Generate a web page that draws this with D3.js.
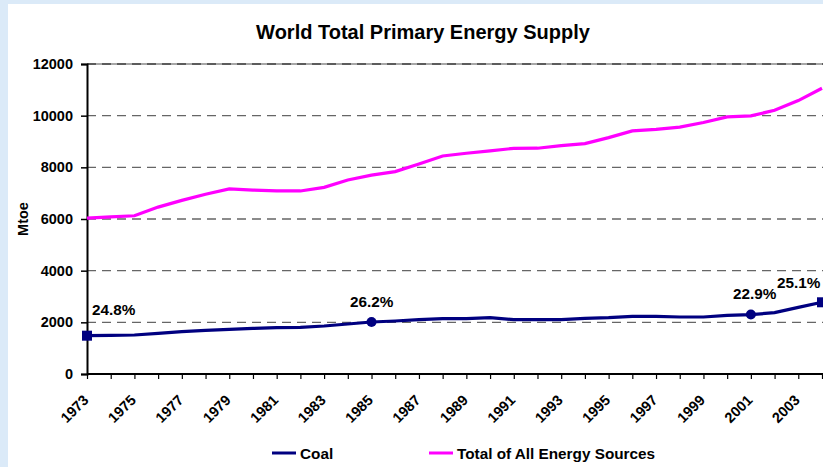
<!DOCTYPE html>
<html><head><meta charset="utf-8">
<script src="https://cdn.jsdelivr.net/npm/d3@7"></script>
<style>
html,body{margin:0;padding:0;background:#dbeaf8;}
svg{display:block;font-family:Arial,"Liberation Sans",sans-serif;}
</style></head>
<body><svg id="c" width="823" height="467"></svg>
<script>
const years = d3.range(1973, 2005);
const total = [6035,6080,6125,6460,6720,6960,7165,7120,7085,7085,7225,7510,7700,7835,8130,8440,8545,8635,8735,8740,8840,8920,9150,9410,9470,9555,9735,9955,9990,10210,10585,11060];
const coal  = [1483,1495,1510,1575,1638,1690,1729,1765,1794,1806,1858,1935,2013,2052,2103,2142,2142,2181,2103,2103,2103,2155,2181,2232,2232,2206,2206,2271,2300,2374,2581,2776];
const yTicks = [0,2000,4000,6000,8000,10000,12000];
const xLabels = d3.range(1973, 2005, 2);
const shares = [{year:1973,label:"24.8%",marker:"square"},{year:1985,label:"26.2%",marker:"circle"},{year:2001,label:"22.9%",marker:"circle"},{year:2004,label:"25.1%",marker:"square"}];
const seriesNames = ["Coal","Total of All Energy Sources"];
const colors = ["#000080","#ff00ff"];

const svg = d3.select("#c");
svg.append("rect").attr("x",8).attr("y",4).attr("width",815).attr("height",463).attr("fill","#fff");

const L=87, R=822, T=64, B=374;
const x = d3.scaleLinear().domain([1973,2004]).range([L,R]);
const y = d3.scaleLinear().domain([0,12000]).range([B,T]);

// title
svg.append("text").attr("x",423).attr("y",39).attr("text-anchor","middle")
  .attr("font-size",20).attr("font-weight","bold").attr("fill","#000")
  .text("World Total Primary Energy Supply");

// grid
const g = svg.append("g");
g.selectAll("line.grid").data(yTicks.filter(d=>d>0)).join("line")
  .attr("x1",L).attr("x2",823).attr("y1",d=>y(d)).attr("y2",d=>y(d))
  .attr("stroke",d=>d===12000?"#8a8a8a":"#666").attr("stroke-width",1.4)
  .attr("stroke-dasharray",d=>d===12000?null:"9,6");
g.selectAll("line.grid2").data([12000]).join("line")
  .attr("x1",L).attr("x2",823).attr("y1",d=>y(d)).attr("y2",d=>y(d))
  .attr("stroke","#444").attr("stroke-width",1.4).attr("stroke-dasharray","9,6");

// y axis
const yAxis = d3.axisLeft(y).tickValues(yTicks).tickSize(6).tickPadding(8).tickFormat(d3.format("d"));
const ya = svg.append("g").attr("transform",`translate(${L},0)`).call(yAxis);
ya.select(".domain").attr("stroke","#000").attr("stroke-width",2);
ya.selectAll(".tick line").attr("stroke","#000").attr("stroke-width",1.5);
ya.selectAll(".tick text").attr("font-size",14.5).attr("font-weight","bold").attr("fill","#000").attr("font-family","Arial,'Liberation Sans',sans-serif");

// x axis
const xAxis = d3.axisBottom(x).tickValues(years).tickSize(5).tickFormat(d=> xLabels.includes(d) ? String(d) : "");
const xa = svg.append("g").attr("transform",`translate(0,${B})`).call(xAxis);
xa.select(".domain").attr("stroke","#000").attr("stroke-width",2).attr("d",`M${L},0H823`);
xa.selectAll(".tick line").attr("stroke","#000").attr("stroke-width",1.2);
xa.selectAll(".tick text").attr("font-size",14.5).attr("font-weight","bold").attr("fill","#000")
  .attr("font-family","Arial,'Liberation Sans',sans-serif")
  .attr("text-anchor","end").attr("dy",0).attr("y",0)
  .attr("transform","translate(2,27) rotate(-45)");

// axis label
svg.append("text").attr("transform","translate(28,219) rotate(-90)").attr("text-anchor","middle")
  .attr("font-size",14.5).attr("font-weight","bold").text("Mtoe");

// lines
const line = d3.line().x((d,i)=>x(years[i])).y(d=>y(d));
svg.append("path").datum(total).attr("d",line).attr("fill","none").attr("stroke",colors[1]).attr("stroke-width",3.2);
svg.append("path").datum(coal).attr("d",line).attr("fill","none").attr("stroke",colors[0]).attr("stroke-width",3.2);

// markers & labels
shares.forEach(s=>{
  const i = years.indexOf(s.year);
  const cx = x(s.year), cy = y(coal[i]);
  if (s.marker==="square") svg.append("rect").attr("x",cx-5).attr("y",cy-5).attr("width",10).attr("height",10).attr("fill",colors[0]);
  else svg.append("circle").attr("cx",cx).attr("cy",cy).attr("r",5).attr("fill",colors[0]);
});
const labelPos = {1973:[92,315],1985:[350,307],2001:[733,299],2004:[777,288]};
svg.selectAll("text.share").data(shares).join("text").attr("class","share")
  .attr("x",d=>labelPos[d.year][0]).attr("y",d=>labelPos[d.year][1])
  .attr("font-size",15.3).attr("font-weight","bold").attr("fill","#000").text(d=>d.label);

// legend
const legX = [272,429];
seriesNames.forEach((n,i)=>{
  svg.append("line").attr("x1",legX[i]).attr("x2",legX[i]+24).attr("y1",453).attr("y2",453).attr("stroke",colors[i]).attr("stroke-width",3);
  svg.append("text").attr("x",legX[i]+28).attr("y",458.5).attr("font-size",15.3).attr("font-weight","bold").text(n);
});
</script></body></html>
